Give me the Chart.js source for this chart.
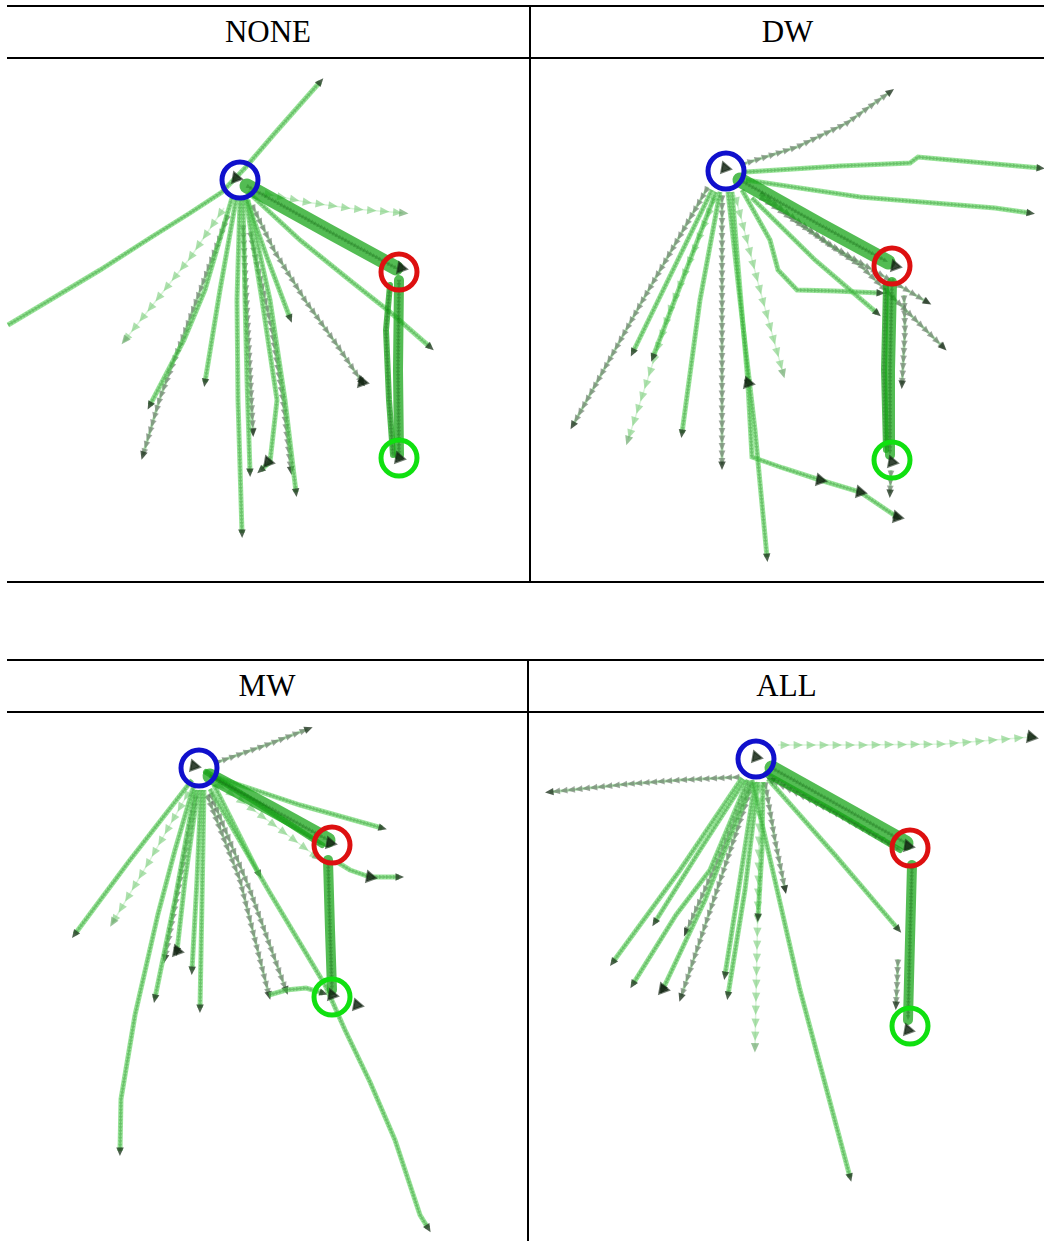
<!DOCTYPE html>
<html><head><meta charset="utf-8">
<script src="https://cdn.jsdelivr.net/npm/chart.js@4.4.1/dist/chart.umd.min.js"></script>
<style>
html,body{margin:0;padding:0;background:#fff;}
body{width:1044px;height:1241px;position:relative;overflow:hidden;}
.ln{position:absolute;background:#000;z-index:5}
.hd{position:absolute;display:flex;align-items:center;justify-content:center;font-family:"Liberation Serif","Times New Roman",serif;font-size:31px;color:#000;z-index:5}
canvas{position:absolute;z-index:1}
</style></head><body>
<div class="ln" style="left:7px;top:5px;width:1037px;height:2px"></div>
<div class="ln" style="left:7px;top:57px;width:1037px;height:2px"></div>
<div class="ln" style="left:7px;top:581px;width:1037px;height:2px"></div>
<div class="ln" style="left:529px;top:5px;width:2px;height:578px"></div>
<div class="ln" style="left:7px;top:659px;width:1037px;height:2px"></div>
<div class="ln" style="left:7px;top:711px;width:1037px;height:2px"></div>
<div class="ln" style="left:527px;top:659px;width:2px;height:582px"></div>
<div class="hd" id="h0" style="left:7px;top:7px;width:522px;height:50px"></div>
<div class="hd" id="h1" style="left:531px;top:7px;width:513px;height:50px"></div>
<div class="hd" id="h2" style="left:7px;top:661px;width:520px;height:50px"></div>
<div class="hd" id="h3" style="left:529px;top:661px;width:515px;height:50px"></div>
<canvas id="c0"></canvas><canvas id="c1"></canvas><canvas id="c2"></canvas><canvas id="c3"></canvas>
<script>
// ---------- DATA (page-pixel coordinate units) ----------
const PANEL_NAMES = ['NONE','DW','MW','ALL'];

// NONE
const NONE_CIRCLES = [[240,180],[399,272],[399,458]];
const NONE_BUNDLES = [
  [[247,186],[330,232],[396,268]],
  [[399,280],[398,370],[399,455]],
  [[390,285],[386,330],[389,400],[393,455]]
];
const NONE_GREEN = [
  [[8,325],[50,300],[100,270],[150,238],[190,213],[222,192],[245,168],[275,133],[320,82]],
  [[248,192],[300,240],[352,282],[390,312],[430,347]],
  [[245,195],[268,260],[290,318]],
  [[232,198],[205,290],[184,340],[150,405]],
  [[236,200],[220,290],[205,382]],
  [[240,200],[237,300],[238,400],[242,533]],
  [[243,200],[245,300],[247,380],[250,472]],
  [[246,200],[262,300],[277,400],[270,462],[261,470]],
  [[248,200],[270,300],[285,400],[296,492]]
];
const NONE_GRAY = [
  [[228,215],[190,318],[160,398],[143,455]],
  [[243,225],[248,330],[253,432]],
  [[250,232],[272,330],[283,400],[291,470]],
  [[252,205],[275,252],[305,300],[337,345],[362,382]]
];
const NONE_LIGHT = [
  [[262,193],[305,202],[355,209],[403,213]],
  [[224,208],[190,258],[155,302],[125,340]]
];
const NONE_BLOBS = [[362,382],[268,462],[236,178],[401,268],[399,458]];

// DW
const DW_CIRCLES = [[726,171],[892,266],[892,460]];
const DW_BUNDLES = [
  [[740,180],[820,225],[888,262]],
  [[892,282],[890,370],[890,455]],
  [[886,285],[884,370],[886,450]]
];
const DW_GREEN = [
  [[746,172],[840,166],[910,163],[918,157],[1040,168]],
  [[746,180],[860,197],[995,208],[1030,213]],
  [[752,198],[815,260],[877,313]],
  [[742,190],[770,240],[778,270],[797,290],[835,291],[880,293]],
  [[712,190],[633,352]],
  [[716,192],[653,357]],
  [[720,192],[700,300],[682,433]],
  [[728,192],[740,300],[755,430],[767,557]],
  [[732,192],[740,290],[748,383]],
  [[748,385],[752,457],[783,468],[820,480],[860,492],[897,517]]
];
const DW_GRAY = [
  [[740,165],[797,147],[847,123],[890,92]],
  [[760,193],[830,245],[878,273],[927,302]],
  [[760,197],[862,267],[943,347]],
  [[708,187],[640,305],[573,425]],
  [[722,195],[722,330],[722,465]],
  [[904,295],[905,330],[902,384]],
  [[891,470],[890,493]]
];
const DW_LIGHT = [
  [[716,195],[670,310],[628,440]],
  [[735,195],[760,290],[783,373]]
];
const DW_BLOBS = [[748,383],[897,517],[725,168],[895,266],[892,462],[820,480],[860,492]];

// MW
const MW_CIRCLES = [[199,768],[332,845],[332,997]];
const MW_BUNDLES = [
  [[210,776],[270,808],[328,840]],
  [[328,860],[330,930],[332,990]],
  [[206,772],[260,805],[322,845]]
];
const MW_GREEN = [
  [[213,776],[300,805],[382,828]],
  [[210,789],[270,893],[325,985],[345,1030],[370,1082],[395,1140],[414,1197],[420,1215],[428,1228]],
  [[337,862],[350,870],[370,877],[399,877]],
  [[192,780],[130,860],[75,934]],
  [[194,785],[175,850],[158,914],[135,1015],[121,1099],[120,1151]],
  [[195,790],[175,900],[155,998]],
  [[198,790],[185,880],[177,951]],
  [[201,790],[197,880],[192,970]],
  [[204,790],[202,900],[200,1008]],
  [[214,785],[259,874]],
  [[269,995],[286,990],[306,988],[323,993]]
];
const MW_GRAY = [
  [[215,763],[269,744],[308,729]],
  [[207,795],[240,880],[269,995]],
  [[210,793],[250,890],[286,990]],
  [[196,795],[180,880],[165,958]]
];
const MW_LIGHT = [
  [[215,782],[270,822],[317,857]],
  [[190,790],[150,860],[113,922]]
];
const MW_BLOBS = [[177,951],[370,877],[194,766],[330,843],[332,995],[357,1005]];

// ALL
const ALL_CIRCLES = [[756,759],[910,848],[910,1026]];
const ALL_BUNDLES = [
  [[772,768],[840,806],[906,843]],
  [[912,865],[910,940],[908,1020]],
  [[766,774],[835,812],[900,850]]
];
const ALL_GREEN = [
  [[768,779],[835,855],[898,929]],
  [[752,780],[800,990],[850,1177]],
  [[742,778],[680,870],[613,962]],
  [[745,780],[700,850],[655,922]],
  [[748,780],[710,870],[676,915],[633,984]],
  [[752,782],[705,900],[663,989]],
  [[755,782],[740,880],[725,975]],
  [[758,782],[745,890],[728,995]],
  [[763,782],[762,850],[758,917]]
];
const ALL_GRAY = [
  [[740,777],[680,780],[628,784],[550,792]],
  [[891,844],[830,810],[771,780]],
  [[765,782],[775,840],[785,889]],
  [[750,782],[718,860],[686,932]],
  [[753,782],[717,890],[681,997]],
  [[898,959],[897,985],[896,1005]]
];
const ALL_LIGHT = [
  [[778,745],[860,745],[945,744],[1031,737]],
  [[760,782],[758,900],[755,1047]]
];
const ALL_BLOBS = [[1031,737],[756,757],[908,846],[908,1030],[663,989]];

const PANEL_DATA = [
  {circles:NONE_CIRCLES,bundles:NONE_BUNDLES,green:NONE_GREEN,gray:NONE_GRAY,light:NONE_LIGHT,blobs:NONE_BLOBS},
  {circles:DW_CIRCLES,bundles:DW_BUNDLES,green:DW_GREEN,gray:DW_GRAY,light:DW_LIGHT,blobs:DW_BLOBS},
  {circles:MW_CIRCLES,bundles:MW_BUNDLES,green:MW_GREEN,gray:MW_GRAY,light:MW_LIGHT,blobs:MW_BLOBS},
  {circles:ALL_CIRCLES,bundles:ALL_BUNDLES,green:ALL_GREEN,gray:ALL_GRAY,light:ALL_LIGHT,blobs:ALL_BLOBS}
];

// ---------- LAYOUT / STYLE ----------
const BOUNDS = [
  {x0:0,x1:529,y0:59,y1:581},
  {x0:531,x1:1044,y0:59,y1:581},
  {x0:0,x1:527,y0:713,y1:1241},
  {x0:529,x1:1044,y0:713,y1:1241}
];
const STYLE = {
  bundle:{line:'rgba(25,165,25,0.75)',mark:'rgba(15,95,15,0.32)',size:3,gap:3.5,end:null},
  green:{line:'rgba(90,210,90,0.62)',width:5,mark:'rgba(45,150,45,0.40)',size:2.6,gap:3.5,end:'rgba(35,60,35,0.80)',endSize:5},
  gray:{line:'rgba(120,215,120,0.55)',width:3,mark:'rgba(95,108,95,0.60)',size:4.5,gap:7.5,end:'rgba(35,55,35,0.80)',endSize:5},
  light:{line:'rgba(150,225,150,0.35)',width:1.5,mark:'rgba(125,205,125,0.62)',size:5.5,gap:13,end:'rgba(110,170,110,0.7)',endSize:5.5}
};
const BUNDLE_WIDTHS = [15,10,6];
const CIRCLE_COLORS = ['#1010cc','#dd1010','#10e010'];

function tri(ctx,x,y,ang,s){
  ctx.save();ctx.translate(x,y);ctx.rotate(ang);
  ctx.beginPath();ctx.moveTo(s,0);ctx.lineTo(-s*0.7,s*0.75);ctx.lineTo(-s*0.7,-s*0.75);ctx.closePath();ctx.fill();
  ctx.restore();
}
const trajPlugin = {
  id:'traj',
  afterDatasetDraw(chart,args){
    const ds = chart.data.datasets[args.index];
    const st = ds.traj && STYLE[ds.traj]; if(!st) return;
    const el = args.meta.data; if(el.length<2) return;
    const ctx = chart.ctx; ctx.save(); ctx.fillStyle = st.mark;
    let carry = st.gap/2;
    for(let i=1;i<el.length;i++){
      const a=el[i-1], b=el[i]; const dx=b.x-a.x, dy=b.y-a.y; const L=Math.hypot(dx,dy); if(L===0) continue;
      const ang=Math.atan2(dy,dx); let t=carry;
      while(t<L){ tri(ctx,a.x+dx*t/L,a.y+dy*t/L,ang,st.size); t+=st.gap; }
      carry=t-L;
    }
    if(st.end){ const a=el[el.length-2], b=el[el.length-1]; ctx.fillStyle=st.end; tri(ctx,b.x,b.y,Math.atan2(b.y-a.y,b.x-a.x),st.endSize); }
    ctx.restore();
  }
};
const toPts = p => p.map(q=>({x:q[0],y:q[1]}));

PANEL_NAMES.forEach((name,i)=>{
  document.getElementById('h'+i).textContent = name;
  const b = BOUNDS[i], d = PANEL_DATA[i];
  const cv = document.getElementById('c'+i);
  cv.width = b.x1-b.x0; cv.height = b.y1-b.y0;
  cv.style.left = b.x0+'px'; cv.style.top = b.y0+'px';
  const datasets = [];
  d.light.forEach(p=>datasets.push({data:toPts(p),traj:'light',showLine:true,borderColor:STYLE.light.line,borderWidth:STYLE.light.width,pointRadius:0,order:6}));
  d.gray.forEach(p=>datasets.push({data:toPts(p),traj:'gray',showLine:true,borderColor:STYLE.gray.line,borderWidth:STYLE.gray.width,pointRadius:0,order:5}));
  d.green.forEach(p=>datasets.push({data:toPts(p),traj:'green',showLine:true,borderColor:STYLE.green.line,borderWidth:STYLE.green.width,pointRadius:0,order:4}));
  d.bundles.forEach((p,k)=>datasets.push({data:toPts(p),traj:'bundle',showLine:true,borderColor:STYLE.bundle.line,borderWidth:BUNDLE_WIDTHS[k],pointRadius:0,order:3,borderCapStyle:'round'}));
  datasets.push({data:toPts(d.blobs),showLine:false,pointRadius:6,pointStyle:'triangle',rotation:-20,backgroundColor:'rgba(20,38,20,0.85)',borderColor:'rgba(20,38,20,0.6)',borderWidth:2,order:2});
  datasets.push({data:toPts(d.circles),showLine:false,pointRadius:18,pointStyle:'circle',backgroundColor:'rgba(0,0,0,0)',borderColor:CIRCLE_COLORS,pointBorderColor:CIRCLE_COLORS,borderWidth:5,pointBorderWidth:5,order:0});
  new Chart(cv,{
    type:'scatter',
    data:{datasets},
    options:{
      responsive:false,animation:false,devicePixelRatio:1,
      layout:{padding:0,autoPadding:false},
      plugins:{legend:{display:false},tooltip:{enabled:false}},
      events:[],
      scales:{
        x:{type:'linear',min:b.x0,max:b.x1,display:false},
        y:{type:'linear',min:b.y0,max:b.y1,reverse:true,display:false}
      }
    },
    plugins:[trajPlugin]
  });
});
</script>
</body></html>
